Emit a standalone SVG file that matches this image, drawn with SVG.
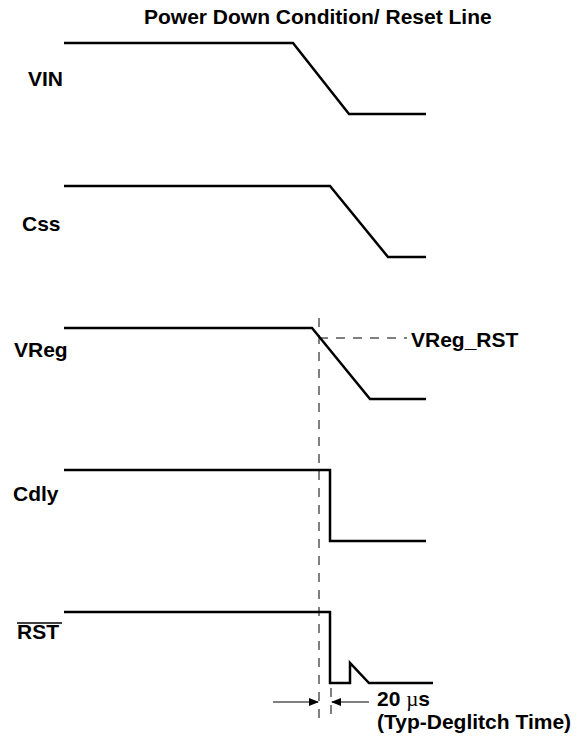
<svg xmlns="http://www.w3.org/2000/svg" width="582" height="738" viewBox="0 0 582 738">
<style>
.sig{fill:none;stroke:#000;stroke-width:2.5;stroke-linejoin:miter}
.lbl{font-family:"Liberation Sans",Arial,sans-serif;font-weight:bold;font-size:21px;fill:#000}
.dash{fill:none;stroke:#000;stroke-width:1;stroke-dasharray:9 8}
.dim{fill:none;stroke:#000;stroke-width:1}
</style>
<defs>
<marker id="ah" markerWidth="10" markerHeight="8" refX="9" refY="4" orient="auto" markerUnits="userSpaceOnUse">
<path d="M0,0 L10,4 L0,8 Z" fill="#000"/>
</marker>
</defs>
<rect width="582" height="738" fill="#fff"/>
<text class="lbl" x="144" y="24" font-size="20.5">Power Down Condition/ Reset Line</text>
<g id="vin">
<polyline class="sig" points="64,43 293,43 349,114 426,114"/>
<text class="lbl" x="28" y="86">VIN</text>
</g>
<g id="css">
<polyline class="sig" points="64,186 330,186 388,257 426,257"/>
<text class="lbl" x="22" y="231">Css</text>
</g>
<g id="vreg">
<polyline class="sig" points="64,328 312,328 370,399 426,399"/>
<text class="lbl" x="14" y="357">VReg</text>
</g>
<g id="vreg_rst">
<line class="dash" x1="319" y1="338" x2="407" y2="338"/>
<text class="lbl" x="411" y="347">VReg_RST</text>
</g>
<g id="cdly">
<polyline class="sig" points="64,470 330,470 330,541 426,541"/>
<text class="lbl" x="13" y="501">Cdly</text>
</g>
<g id="rst">
<polyline class="sig" points="64,612 330,612 330,683 350,683 350,663 369,683 433,683"/>
<text class="lbl" x="17" y="639">RST</text>
<line x1="17" y1="623" x2="62" y2="623" stroke="#000" stroke-width="1.5"/>
</g>
<g id="connectors">
<line class="dash" x1="319" y1="318" x2="319" y2="718"/>
<line class="dash" x1="331" y1="688" x2="331" y2="718"/>
<line class="dim" x1="273" y1="702" x2="318" y2="702" marker-end="url(#ah)"/>
<line class="dim" x1="369" y1="702" x2="332" y2="702" marker-end="url(#ah)"/>
</g>
<g id="deglitch">
<text class="lbl" x="377" y="706" font-size="20">20 <tspan font-family="'Liberation Serif',serif" font-weight="normal">µ</tspan>s</text>
<text class="lbl" x="377" y="729" font-size="20.5">(Typ-Deglitch Time)</text>
</g>
</svg>
